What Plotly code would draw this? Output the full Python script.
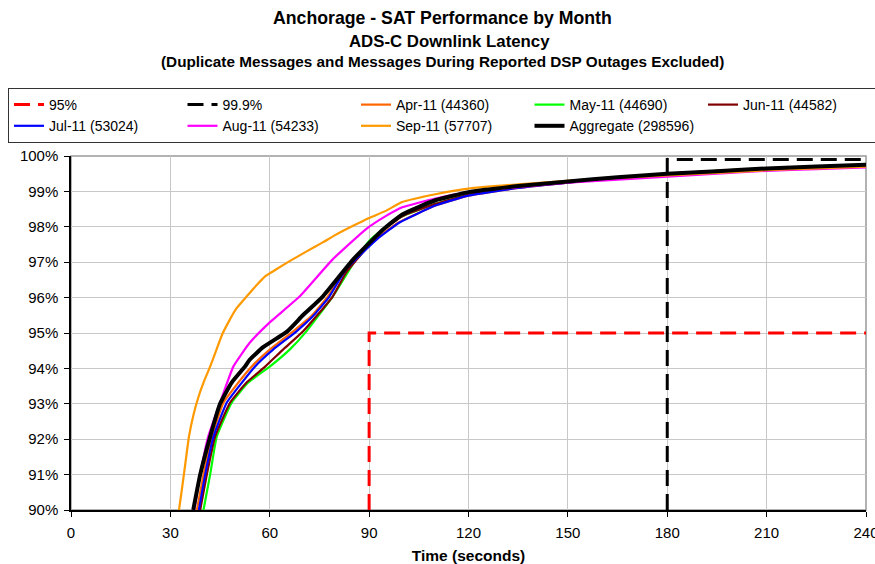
import plotly.graph_objects as go

# ---- data ----
thr95_x = [90, 90, 240]
thr95_y = [90, 95, 95]
thr999_x = [180, 180, 240]
thr999_y = [90, 99.9, 99.9]

apr_t = [38, 40, 42.5, 46, 50.5, 54.5, 60, 67, 72.5, 77.5, 83, 92, 99, 110, 120, 135, 150, 165, 180, 195, 210, 225, 240]
apr_y = [90, 91, 92.07, 93.03, 93.6, 94.05, 94.53, 95.04, 95.47, 96.03, 96.8, 97.65, 98.13, 98.6, 98.88, 99.1, 99.25, 99.38, 99.48, 99.56, 99.64, 99.69, 99.73]

may_t = [40, 42, 44, 48.5, 53.5, 60, 66, 71, 79, 86, 90, 95, 100, 110, 120, 135, 150, 165, 180, 195, 210, 225, 240]
may_y = [90, 91, 92.07, 93.03, 93.6, 94.05, 94.53, 95.04, 96.03, 97.08, 97.6, 98.0, 98.3, 98.65, 98.9, 99.12, 99.27, 99.4, 99.5, 99.58, 99.65, 99.7, 99.75]

jun_t = [39, 41, 43.5, 48, 53, 58.6, 64, 70, 79, 83, 89, 94.5, 100, 110, 120, 135, 150, 165, 180, 195, 210, 225, 240]
jun_y = [90, 91, 92.07, 93.03, 93.6, 94.05, 94.53, 95.04, 96.03, 96.7, 97.37, 97.93, 98.3, 98.65, 98.9, 99.12, 99.27, 99.4, 99.5, 99.58, 99.65, 99.7, 99.75]

jul_t = [38.6, 40.5, 43, 47, 51.6, 55.5, 61, 68, 73, 78, 83, 92.4, 99.3, 110, 120, 135, 150, 165, 180, 195, 210, 225, 240]
jul_y = [90, 91, 92.07, 93.03, 93.6, 94.05, 94.53, 95.04, 95.47, 96.03, 96.8, 97.65, 98.13, 98.6, 98.88, 99.1, 99.25, 99.38, 99.48, 99.56, 99.64, 99.69, 99.73]

aug_t = [37.2, 39, 41.4, 45, 49, 54, 60, 69, 79, 89, 95, 100, 110, 120, 135, 150, 165, 180, 195, 210, 225, 240]
aug_y = [90, 91, 92.07, 93.03, 94.05, 94.73, 95.3, 96.03, 97.08, 97.93, 98.3, 98.55, 98.8, 98.98, 99.12, 99.25, 99.33, 99.42, 99.5, 99.58, 99.63, 99.68]

sep_t = [32.6, 33.5, 34.5, 35.6, 37, 38.5, 40, 42, 44, 45.6, 47.5, 50, 53, 56, 58.6, 62, 66, 71, 76, 80, 85, 90, 95, 100, 110, 120, 135, 150, 165, 180, 195, 210, 225, 240]
sep_y = [90, 90.6, 91.3, 92.07, 92.7, 93.2, 93.6, 94.05, 94.55, 94.95, 95.3, 95.7, 96.03, 96.35, 96.6, 96.8, 97.03, 97.3, 97.56, 97.78, 98.02, 98.25, 98.45, 98.7, 98.92, 99.08, 99.2, 99.3, 99.38, 99.45, 99.52, 99.6, 99.65, 99.7]

agg_t = [36.9, 39, 42, 45, 48.5, 52.5, 54, 58, 65.2, 70, 76, 85.2, 94.3, 100, 110, 120, 135, 150, 165, 180, 195, 210, 225, 240]
agg_y = [90, 91, 92.07, 93.0, 93.6, 94.05, 94.25, 94.6, 95.04, 95.5, 96.03, 97.08, 97.93, 98.35, 98.75, 98.98, 99.15, 99.28, 99.4, 99.5, 99.57, 99.65, 99.7, 99.75]

x_ticks = [0, 30, 60, 90, 120, 150, 180, 210, 240]
y_ticks = [90, 91, 92, 93, 94, 95, 96, 97, 98, 99, 100]
y_labels = [f"{v}%" for v in y_ticks]

FONT = "Liberation Sans, Arial, sans-serif"

fig = go.Figure()
fig.add_trace(go.Scatter(x=thr95_x, y=thr95_y, mode="lines", name="95%",
                         line=dict(color="#FF0000", width=3, dash="16px,8px")))
fig.add_trace(go.Scatter(x=thr999_x, y=thr999_y, mode="lines", name="99.9%",
                         line=dict(color="#000000", width=3, dash="16px,8px")))

series = [
    ("Apr-11 (44360)", apr_t, apr_y, "#FF6600", 2.2),
    ("May-11 (44690)", may_t, may_y, "#00FF00", 2.2),
    ("Jun-11 (44582)", jun_t, jun_y, "#800000", 2.2),
    ("Jul-11 (53024)", jul_t, jul_y, "#0000FF", 2.2),
    ("Aug-11 (54233)", aug_t, aug_y, "#FF00FF", 2.2),
    ("Sep-11 (57707)", sep_t, sep_y, "#FF9900", 2.2),
    ("Aggregate (298596)", agg_t, agg_y, "#000000", 4),
]
for name, t, y, c, w in series:
    fig.add_trace(go.Scatter(x=t, y=y, mode="lines", name=name,
                             line=dict(color=c, width=w, shape="spline", smoothing=0.4)))

L, R, T, B = 71, 9, 156, 54
H = 564 - T - B

def py(pix):
    return (564 - B - pix) / H

fig.update_layout(
    width=875, height=564,
    margin=dict(l=L, r=R, t=T, b=B, autoexpand=False),
    paper_bgcolor="white", plot_bgcolor="white",
    font=dict(family=FONT, color="black", size=15),
    showlegend=True,
    legend=dict(orientation="h", x=(8 - L) / 795, xanchor="left", y=py(88), yanchor="top",
                entrywidth=128.5, entrywidthmode="pixels", itemwidth=30,
                bordercolor="#333333", borderwidth=1, font=dict(size=14, family=FONT),
                tracegroupgap=0, traceorder="normal"),
    xaxis=dict(range=[0, 240], tickvals=x_ticks, showgrid=True, gridcolor="#C8C8C8",
               showline=True, linecolor="black", linewidth=1.5, ticks="outside",
               ticklen=5, tickcolor="black", zeroline=False, ticklabelstandoff=3,
               tickfont=dict(size=15), automargin=False, ticklabeloverflow="allow",
               title=dict(text="<b>Time (seconds)</b>", font=dict(size=15.5), standoff=12)),
    yaxis=dict(range=[90, 100], tickvals=y_ticks, ticktext=y_labels, showgrid=True,
               gridcolor="#C8C8C8", showline=True, linecolor="black", linewidth=1.5,
               ticks="outside", ticklen=5, tickcolor="black", zeroline=False,
               tickfont=dict(size=15), ticklabelstandoff=3, automargin=False),
    shapes=[dict(type="rect", xref="paper", yref="paper", x0=0, x1=1, y0=0, y1=1,
                 line=dict(color="#999999", width=1.5), layer="below")],
    annotations=[
        dict(text="<b>Anchorage - SAT Performance by Month</b>", xref="paper", yref="paper",
             x=(442 - L) / 795, y=py(18), yanchor="middle", showarrow=False,
             font=dict(size=17.7)),
        dict(text="<b>ADS-C Downlink Latency</b>", xref="paper", yref="paper",
             x=(449 - L) / 795, y=py(41), yanchor="middle", showarrow=False,
             font=dict(size=16.8)),
        dict(text="<b>(Duplicate Messages and Messages During Reported DSP Outages Excluded)</b>",
             xref="paper", yref="paper", x=(442 - L) / 795, y=py(62), yanchor="middle",
             showarrow=False, font=dict(size=15.3)),
    ],
)

fig.write_html("out.html")
